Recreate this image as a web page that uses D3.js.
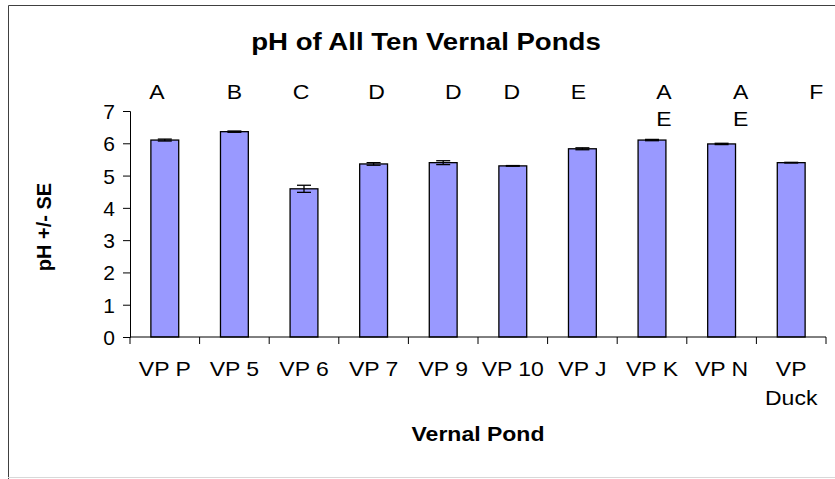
<!DOCTYPE html>
<html>
<head>
<meta charset="utf-8">
<script src="https://cdn.jsdelivr.net/npm/d3@7"></script>
<style>
  body { margin: 0; background: #fff; }
  text { font-family: "Liberation Sans", Arial, sans-serif; fill: #000; }
</style>
</head>
<body>
<div id="chart"></div>
<script>
// pond names, mean pH, standard error and significance letters
var ponds = ["VP P", "VP 5", "VP 6", "VP 7", "VP 9", "VP 10", "VP J", "VP K", "VP N", "VP Duck"];
var meanPH = [6.10, 6.36, 4.59, 5.36, 5.40, 5.30, 5.83, 6.10, 5.98, 5.40];
var sePH = [0.03, 0.02, 0.11, 0.04, 0.06, 0.01, 0.03, 0.02, 0.02, 0.01];
var groups = [["A"], ["B"], ["C"], ["D"], ["D"], ["D"], ["E"], ["A", "E"], ["A", "E"], ["F"]];
var yTicks = [0, 1, 2, 3, 4, 5, 6, 7];

// the letters were placed by hand in the original, nudge them a bit
var letterNudge = [-8, 0, -3, 3, 10, -1, -4, 12, 19, 25];

var W = 835, H = 479;
var margin = { top: 111, right: 9, bottom: 142, left: 130 },
    width = W - margin.left - margin.right,
    height = H - margin.top - margin.bottom;
var sx = 1.15; // excel text is a bit wide

var svg = d3.select("#chart").append("svg")
    .attr("width", W)
    .attr("height", H);

svg.append("rect").attr("width", W).attr("height", H).attr("fill", "#fff");

// chart frame
svg.append("path")
    .attr("d", "M8.5," + H + "V5.5H" + W)
    .attr("fill", "none")
    .attr("stroke", "#404040");
svg.append("line")
    .attr("x1", 8).attr("x2", W)
    .attr("y1", 477.5).attr("y2", 477.5)
    .attr("stroke", "#d8d8d8");

function wideText(sel, x, y, str) {
    return sel.append("text")
        .attr("transform", "translate(" + x + "," + y + ") scale(" + sx + ",1)")
        .attr("text-anchor", "middle")
        .text(str);
}

var g = svg.append("g")
    .attr("transform", "translate(" + margin.left + "," + margin.top + ")");

var x = d3.scaleBand()
    .domain(ponds)
    .range([0, width])
    .paddingInner(0.6)
    .paddingOuter(0.3);

var y = d3.scaleLinear()
    .domain([0, 7])
    .range([height, 0]);

// bars
g.selectAll(".bar")
    .data(ponds)
    .enter().append("rect")
    .attr("class", "bar")
    .attr("x", d => x(d))
    .attr("y", (d, i) => y(meanPH[i]))
    .attr("width", x.bandwidth())
    .attr("height", (d, i) => height - y(meanPH[i]))
    .attr("fill", "#9999ff")
    .attr("stroke", "#000")
    .attr("stroke-width", 1.3);

// error bars
var err = g.selectAll(".err")
    .data(ponds)
    .enter().append("g")
    .attr("class", "err")
    .attr("transform", d => "translate(" + (x(d) + x.bandwidth() / 2) + ",0)");

err.append("line")
    .attr("y1", (d, i) => y(meanPH[i] - sePH[i]))
    .attr("y2", (d, i) => y(meanPH[i] + sePH[i]))
    .attr("stroke", "#000").attr("stroke-width", 1.3);
err.append("line")
    .attr("x1", -7).attr("x2", 7)
    .attr("y1", (d, i) => y(meanPH[i] + sePH[i]))
    .attr("y2", (d, i) => y(meanPH[i] + sePH[i]))
    .attr("stroke", "#000").attr("stroke-width", 1.3);
err.append("line")
    .attr("x1", -7).attr("x2", 7)
    .attr("y1", (d, i) => y(meanPH[i] - sePH[i]))
    .attr("y2", (d, i) => y(meanPH[i] - sePH[i]))
    .attr("stroke", "#000").attr("stroke-width", 1.3);

// y axis
var yAxis = g.append("g")
    .call(d3.axisLeft(y).tickValues(yTicks).tickFormat(d3.format("d")).tickSize(7).tickPadding(8));
yAxis.selectAll("text")
    .style("font-size", "21px")
    .attr("dy", "0.36em");

// x axis, ticks between categories
var step = x.step();
var bounds = d3.range(ponds.length + 1).map(i => i * step);
var xAxis = g.append("g").attr("transform", "translate(0," + height + ")");
xAxis.append("line")
    .attr("x1", 0).attr("x2", width)
    .attr("stroke", "#000");
xAxis.selectAll(".tk")
    .data(bounds)
    .enter().append("line")
    .attr("x1", d => d).attr("x2", d => d)
    .attr("y1", 0).attr("y2", 7)
    .attr("stroke", "#000");

svg.selectAll(".domain").attr("stroke", "#000");
svg.selectAll(".tick line").attr("stroke", "#000");

// category labels, long names wrap
ponds.forEach(function (p, i) {
    var cx = x(p) + x.bandwidth() / 2;
    var lines = p == "VP Duck" ? ["VP", "Duck"] : [p];
    lines.forEach(function (ln, j) {
        wideText(g, cx, height + 39 + j * 29, ln).style("font-size", "20px");
    });
});

// group letters above the bars
groups.forEach(function (letters, i) {
    var cx = x(ponds[i]) + x.bandwidth() / 2 + letterNudge[i];
    letters.forEach(function (l, j) {
        wideText(g, cx, -12 + j * 26.5, l).style("font-size", "20px");
    });
});

// titles
wideText(svg, 426, 50, "pH of All Ten Vernal Ponds")
    .style("font-size", "24px")
    .style("font-weight", "bold");

wideText(svg, margin.left + width / 2, 441, "Vernal Pond")
    .style("font-size", "20px")
    .style("font-weight", "bold");

svg.append("text")
    .attr("transform", "translate(51,227) rotate(-90)")
    .attr("text-anchor", "middle")
    .style("font-size", "20px")
    .style("font-weight", "bold")
    .text("pH +/- SE");
</script>
</body>
</html>
